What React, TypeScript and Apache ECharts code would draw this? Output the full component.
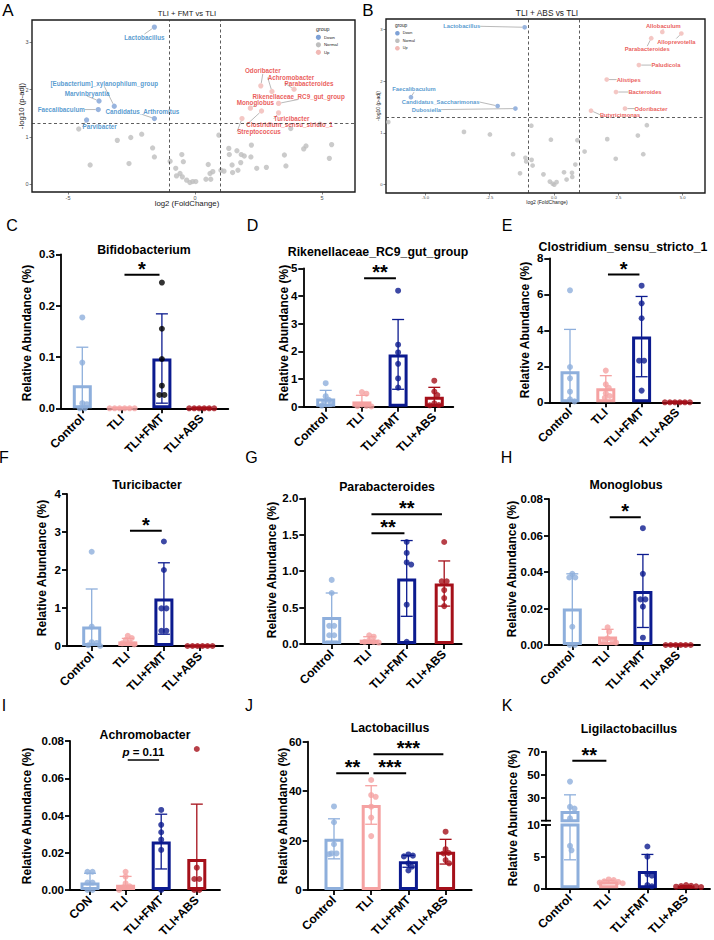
import { useEffect, useRef } from 'react';
import * as echarts from 'echarts';

const FONT = "'Liberation Sans', Arial, Helvetica, sans-serif";

/* ---------- volcano A: TLI + FMT vs TLI ---------- */
const fmtDownGenus = ['Lactobacillus', '[Eubacterium]_xylanophilum_group', 'Marvinbryantia', 'Faecalibaculum', 'Candidatus_Arthromitus', 'Parvibacter'];
const fmtDownLog2FC = [-1.6, -3.18, -3.78, -3.81, -1.6, -4.27];
const fmtDownLogP = [3.32, 1.65, 1.76, 1.58, 1.39, 1.36];
const fmtUpGenus = ['Odoribacter', 'Achromobacter', 'Parabacteroides', 'Rikenellaceae_RC9_gut_group', 'Monoglobus', 'Clostridium_sensu_stricto_1', 'Turicibacter', 'Streptococcus'];
const fmtUpLog2FC = [2.59, 3.03, 3.9, 3.29, 2.18, 2.62, 3.29, 1.85];
const fmtUpLogP = [2.08, 1.96, 2.01, 1.71, 1.61, 1.55, 1.51, 1.39];
const fmtNormalLog2FC = [-4.58, -4.13, -3.06, -2.6, -2.53, -2.1, -1.67, -1.6, -0.98, -0.76, -0.73, -0.59, -0.52, -0.46, -0.5, -0.33, -0.2, -0.09, 0.03, 0.43, 0.52, 0.59, 0.62, 0.7, 0.94, 1.02, 1.14, 1.33, 1.35, 1.46, 1.48, 1.65, 1.69, 1.8, 1.82, 1.94, 2.22, 2.2, 2.43, 2.81, 3.52, 3.58, 3.77, 4.92, 4.28, 4.37, 5.29, 5.38];
const fmtNormalLogP = [1.17, 0.41, 0.93, 0.44, 0.99, 1.06, 0.77, 0.58, 0.49, 0.34, 0.18, 0.23, 0.63, 0.48, 0.16, 0.09, 0.04, 0.06, 0.06, 0.11, 0.42, 0.23, 0.11, 0.27, 1.04, 0.3, 0.28, 0.76, 0.63, 0.41, 0.25, 0.71, 0.3, 0.46, 0.63, 0.6, 0.83, 0.58, 0.34, 0.36, 0.62, 0.39, 1.18, 1.27, 0.75, 0.81, 0.55, 0.84];

/* ---------- volcano B: TLI + ABS vs TLI ---------- */
const absDownGenus = ['Lactobacillus', 'Faecalibaculum', 'Candidatus_Saccharimonas', 'Dubosiella'];
const absDownLog2FC = [-1.14, -5.56, -2.19, -1.5];
const absDownLogP = [3.04, 1.69, 1.52, 1.47];
const absUpGenus = ['Allobaculum', 'Alloprevotella', 'Parabacteroides', 'Paludicola', 'Alistipes', 'Bacteroides', 'Odoribacter', 'Butyricimonas'];
const absUpLog2FC = [4.21, 4.95, 3.78, 3.3, 2.05, 2.41, 2.76, 1.44];
const absUpLogP = [2.95, 2.92, 2.83, 2.31, 2.03, 1.79, 1.47, 1.43];
const absNormalLog2FC = [-6.44, -3.5, -2.49, -1.59, -1.32, -1.11, -1.08, -0.87, -0.83, -0.88, -0.41, -0.16, -0.05, 0.01, 0.1, -0.12, 0.39, 0.49, 0.7, 0.71, 0.83, 0.91, 1.19, 2.07, 2.4, 3.26, 3.47, 3.61];
const absNormalLogP = [1.21, 1.02, 0.97, 0.59, 0.22, 0.52, 0.45, 0.48, 0.37, 1.14, 0.2, 0.06, 0.02, 0.0, 0.05, 0.87, 0.24, 0.1, 0.23, 0.15, 0.39, 0.86, 0.64, 0.88, 0.5, 0.95, 0.59, 1.15];

const FC_CUTOFF = 1;
const P_CUTOFF = -Math.log10(0.05);

/* ---------- relative abundance panels ---------- */
const GROUPS = ['Control', 'TLI', 'TLI+FMT', 'TLI+ABS'];
const GROUPS_CON = ['CON', 'TLI', 'TLI+FMT', 'TLI+ABS'];

const bifidoMean = [0.045, 0, 0.097, 0];
const bifidoSd = [0.074, 0, 0.087, 0];
const bifidoDots = [[0.177, 0.089, 0.01, 0.008, 0, 0], [0, 0, 0, 0, 0, 0], [0.245, 0.155, 0.096, 0.044, 0.026, 0.026], [0, 0, 0, 0, 0, 0]];
const bifidoSig: [number, number, number, string][] = [[1, 2, 0.26, '*']];

const rikenMean = [0.3, 0.19, 1.89, 0.36];
const rikenSd = [0.29, 0.22, 1.26, 0.34];
const rikenDots = [[0.85, 0.38, 0.25, 0.18, 0.1, 0.04], [0.53, 0.47, 0.08, 0.03, 0.02, 0.01], [4.19, 2.24, 1.96, 1.55, 1.02, 0.69], [0.94, 0.55, 0.42, 0.12, 0.06, 0.05]];
const rikenSig: [number, number, number, string][] = [[1, 2, 4.64, '**']];

const clostMean = [1.72, 0.78, 3.65, 0];
const clostSd = [2.33, 0.7, 2.23, 0];
const clostDots = [[6.22, 1.96, 1.33, 0.59, 0.17, 0.05], [1.76, 1.0, 0.8, 0.5, 0.35, 0.25], [6.48, 5.5, 4.67, 2.31, 2.31, 0.65], [0, 0, 0, 0, 0, 0]];
const clostSig: [number, number, number, string][] = [[1, 2, 7.1, '*']];

const turiMean = [0.51, 0.12, 1.25, 0];
const turiSd = [0.99, 0.08, 0.94, 0];
const turiDots = [[2.48, 0.51, 0.1, 0.08, 0.02, 0], [0.27, 0.21, 0.16, 0.09, 0.07, 0.04], [2.75, 2.0, 0.99, 0.99, 0.4, 0.4], [0, 0, 0, 0, 0, 0]];
const turiSig: [number, number, number, string][] = [[1, 2, 3.03, '*']];

const paraMean = [0.37, 0.06, 0.9, 0.83];
const paraSd = [0.33, 0.04, 0.52, 0.31];
const paraDots = [[0.88, 0.7, 0.25, 0.25, 0.12, 0.12], [0.12, 0.1, 0.05, 0.03, 0.03, 0.02], [1.4, 1.25, 1.12, 1.09, 0.54, 0.03], [1.4, 0.86, 0.86, 0.74, 0.63, 0.52]];
const paraSig: [number, number, number, string][] = [[1, 2, 1.52, '**'], [1, 3, 1.78, '**']];

const monoMean = [0.02, 0.0046, 0.0296, 0];
const monoSd = [0.019, 0.004, 0.02, 0];
const monoDots = [[0.039, 0.037, 0.037, 0.01, 0, 0], [0.0097, 0.0073, 0.0037, 0.0027, 0.0018, 0.0013], [0.064, 0.039, 0.025, 0.025, 0.021, 0.004], [0, 0, 0, 0, 0, 0]];
const monoSig: [number, number, number, string][] = [[1, 2, 0.07, '*']];

const achroMean = [0.004, 0.0028, 0.026, 0.0166];
const achroSd = [0.005, 0.0045, 0.0147, 0.0295];
const achroDots = [[0.0098, 0.0098, 0.004, 0.004, 0, 0], [0.0098, 0.0072, 0.0036, 0.002, 0.0014, 0], [0.043, 0.035, 0.031, 0.027, 0.0215, 0], [0.0757, 0.012, 0.0059, 0.0059, 0, 0]];
const achroSig: [number, number, number, string][] = [[1, 2, 0.0698, 'p = 0.11']];

const lactoMean = [20.7, 34.4, 11.6, 15.5];
const lactoSd = [8.1, 7.8, 2.4, 5.0];
const lactoDots = [[33.8, 27.4, 18.5, 14.8, 14.8, 14.5], [44.5, 38.4, 37.7, 33.7, 29.3, 21.8], [14.4, 13.9, 13.6, 10.8, 9.4, 7.9], [23.6, 16.5, 15.0, 14.8, 12.1, 10.8]];
const lactoSig: [number, number, number, string][] = [[0, 1, 47.2, '**'], [1, 2, 47.2, '***'], [1, 3, 54.9, '***']];

const ligiMean = [18.5, 1.07, 2.75, 0.33];
const ligiSd = [14.0, 0.2, 2.6, 0.1];
const ligiDots = [[44, 22, 20.5, 12, 6.7, 6.0], [1.4, 1.3, 1.1, 1.0, 0.9, 0.8], [6.6, 5.0, 2.2, 2.0, 0.5, 0.3], [0.5, 0.4, 0.35, 0.3, 0.25, 0.2]];
const ligiSig: [number, number, number, string][] = [[0, 1, 62.1, '**']];

const GROUP_COLORS = ['#8EAFDC', '#F5A2A2', '#0C1B8F', '#A5101A'];
const BLUE_LABEL = '#2C82C4';
const RED_LABEL = '#E5322F';
const DOWN_COL = '#7EA1D6';
const NORMAL_COL = '#BEBEBE';
const UP_COL = '#F1B9B5';
const DOT = 6;

type Seg = { min: number; max: number; top: number; bottom: number; interval?: number; labels?: number[]; dec: number };
type Panel = {
  letter: string; letterAt: [number, number];
  title: string; titleAt: [number, number];
  yTitleAt: [number, number];
  axisX: number; axisEnd: number; c0: number; step: number;
  cats: string[]; mean: number[]; sd: number[]; dots: number[][]; sig: [number, number, number, string][];
  dotColors?: string[]; segs: Seg[];
};

const PANELS: Panel[] = [
  { letter: 'C', letterAt: [12, 225], title: 'Bifidobacterium', titleAt: [144, 250], yTitleAt: [27, 333], axisX: 61, axisEnd: 228.3, c0: 82.3, step: 39.8, cats: GROUPS, mean: bifidoMean, sd: bifidoSd, dots: bifidoDots, sig: bifidoSig, dotColors: ['#8EAFDC', '#F5A2A2', '#000000', '#A5101A'], segs: [{ min: 0, max: 0.3, interval: 0.1, dec: 1, top: 254.3, bottom: 408.3 }] },
  { letter: 'D', letterAt: [252.5, 225], title: 'Rikenellaceae_RC9_gut_group', titleAt: [378, 252], yTitleAt: [284, 333], axisX: 303.3, axisEnd: 453.3, c0: 325.7, step: 36.2, cats: GROUPS, mean: rikenMean, sd: rikenSd, dots: rikenDots, sig: rikenSig, segs: [{ min: 0, max: 5, interval: 1, dec: 0, top: 268.3, bottom: 406.7 }] },
  { letter: 'E', letterAt: [507, 225], title: 'Clostridium_sensu_stricto_1', titleAt: [623, 247], yTitleAt: [525, 330], axisX: 549.3, axisEnd: 700, c0: 570, step: 35.8, cats: GROUPS, mean: clostMean, sd: clostSd, dots: clostDots, sig: clostSig, segs: [{ min: 0, max: 8, interval: 2, dec: 0, top: 258.3, bottom: 402.3 }] },
  { letter: 'F', letterAt: [4, 457], title: 'Turicibacter', titleAt: [147, 485], yTitleAt: [42, 568], axisX: 67, axisEnd: 223, c0: 91.7, step: 36.1, cats: GROUPS, mean: turiMean, sd: turiSd, dots: turiDots, sig: turiSig, segs: [{ min: 0, max: 4, interval: 1, dec: 0, top: 494, bottom: 646 }] },
  { letter: 'G', letterAt: [251.5, 457.5], title: 'Parabacteroides', titleAt: [387, 487], yTitleAt: [272, 570], axisX: 304.3, axisEnd: 461.7, c0: 331.7, step: 37.5, cats: GROUPS, mean: paraMean, sd: paraSd, dots: paraDots, sig: paraSig, segs: [{ min: 0, max: 2, interval: 0.5, dec: 1, top: 498.3, bottom: 644 }] },
  { letter: 'H', letterAt: [506.5, 457], title: 'Monoglobus', titleAt: [626, 485], yTitleAt: [512, 569], axisX: 549, axisEnd: 700, c0: 572.3, step: 35.3, cats: GROUPS, mean: monoMean, sd: monoSd, dots: monoDots, sig: monoSig, segs: [{ min: 0, max: 0.08, interval: 0.02, dec: 2, top: 499, bottom: 645 }] },
  { letter: 'I', letterAt: [4, 705], title: 'Achromobacter', titleAt: [145, 735], yTitleAt: [27, 816], axisX: 70, axisEnd: 220, c0: 90, step: 35.6, cats: GROUPS_CON, mean: achroMean, sd: achroSd, dots: achroDots, sig: achroSig, segs: [{ min: 0, max: 0.08, interval: 0.02, dec: 2, top: 741, bottom: 890 }] },
  { letter: 'J', letterAt: [249, 705], title: 'Lactobacillus', titleAt: [390, 728], yTitleAt: [283, 816], axisX: 307.7, axisEnd: 471.7, c0: 334, step: 37.2, cats: GROUPS, mean: lactoMean, sd: lactoSd, dots: lactoDots, sig: lactoSig, segs: [{ min: 0, max: 60, interval: 20, dec: 0, top: 741.7, bottom: 890 }] },
  { letter: 'K', letterAt: [507, 705], title: 'Ligilactobacillus', titleAt: [629, 729], yTitleAt: [513, 818], axisX: 546, axisEnd: 710, c0: 570, step: 38.7, cats: GROUPS, mean: ligiMean, sd: ligiSd, dots: ligiDots, sig: ligiSig, segs: [{ min: 0, max: 10, interval: 5, dec: 0, top: 825, bottom: 888.3 }, { min: 10, max: 70, labels: [30, 50, 70], dec: 0, top: 751.7, bottom: 820.7 }] },
];

type Volcano = {
  letter: string; letterAt: [number, number];
  title: string; titleAt: [number, number]; titleSize: number;
  rect: { left: number; top: number; width: number; height: number };
  xRange: [number, number]; yRange: [number, number]; xTicks: number[]; xDec: number;
  tickSize: number; labelSize: number; dot: number; axisTitleSize: number;
  xTitleAt: [number, number]; yTitleAt: [number, number];
  legendAt: [number, number]; legendGap: number; legendSize: number; legendR: number;
  down: { genus: string[]; fc: number[]; p: number[]; offsets: number[][] };
  up: { genus: string[]; fc: number[]; p: number[]; offsets: number[][] };
  normal: { fc: number[]; p: number[] };
};

const VOLCANOES: Volcano[] = [
  {
    letter: 'A', letterAt: [8, 10.5], title: 'TLI + FMT vs TLI', titleAt: [187, 13], titleSize: 7.7,
    rect: { left: 32, top: 20, width: 323, height: 172 },
    xRange: [-6.42, 6.3], yRange: [-0.16, 3.47], xTicks: [-5, 0, 5], xDec: 0,
    tickSize: 5.5, labelSize: 6.3, dot: 5.3, axisTitleSize: 7.8,
    xTitleAt: [187, 203.5], yTitleAt: [21, 106],
    legendAt: [316, 29], legendGap: 7.5, legendSize: 4.3, legendR: 2.6,
    down: { genus: fmtDownGenus, fc: fmtDownLog2FC, p: fmtDownLogP, offsets: [[-10, 10], [-10, -23], [-12, -8], [-37, 0], [-12, -7], [13, 7]] },
    up: { genus: fmtUpGenus, fc: fmtUpLog2FC, p: fmtUpLogP, offsets: [[2, -15], [19, -14], [15, -6], [20, -7], [5, -6], [28, 14], [13, 6], [17, 13]] },
    normal: { fc: fmtNormalLog2FC, p: fmtNormalLogP },
  },
  {
    letter: 'B', letterAt: [368, 10.5], title: 'TLI + ABS vs TLI', titleAt: [547, 13], titleSize: 8.3,
    rect: { left: 386, top: 19, width: 319, height: 174 },
    xRange: [-6.53, 5.87], yRange: [-0.16, 3.2], xTicks: [-5, -2.5, 0, 2.5, 5], xDec: 1,
    tickSize: 4.2, labelSize: 5.8, dot: 4.7, axisTitleSize: 5,
    xTitleAt: [547, 202], yTitleAt: [378.3, 106],
    legendAt: [395, 25], legendGap: 7.5, legendSize: 3.8, legendR: 2.3,
    down: { genus: absDownGenus, fc: absDownLog2FC, p: absDownLogP, offsets: [[-63, -1], [3, -8], [-57, -4], [-89, 1]] },
    up: { genus: absUpGenus, fc: absUpLog2FC, p: absUpLogP, offsets: [[1, -6], [-5, 8], [-4, 11], [27, 0], [22, 0], [29, 0], [26, 0], [29, 4]] },
    normal: { fc: absNormalLog2FC, p: absNormalLogP },
  },
];

// spreads equal / close values sideways so the dots of one group do not pile up
function swarmOffsets(vals: number[], toPx: (v: number) => number): number[] {
  const D = 4.6;
  const STEP = 0.5;
  const order = vals.map((_, i) => i).sort((a, b) => vals[b] - vals[a]);
  const placed: { x: number; y: number }[] = [];
  const out = new Array(vals.length).fill(0);
  for (const i of order) {
    const y = toPx(vals[i]);
    let k = 0;
    let x = 0;
    for (;;) {
      x = k === 0 ? 0 : (k % 2 === 1 ? 1 : -1) * Math.ceil(k / 2) * STEP;
      if (placed.every((q) => Math.hypot(q.x - x, q.y - y) >= D)) break;
      k++;
    }
    placed.push({ x, y });
    out[i] = x;
  }
  const rows = new Map<number, number[]>();
  order.forEach((i) => rows.set(vals[i], [...(rows.get(vals[i]) || []), i]));
  rows.forEach((members) => {
    if (members.length > 1) {
      const m = members.reduce((s, i) => s + out[i], 0) / members.length;
      members.forEach((i) => (out[i] -= m));
    }
  });
  return out;
}

function textEl(text: string, x: number, y: number, size: number, weight = 'normal', rotation = 0, color = '#000', align = 'center') {
  return {
    type: 'text', x, y, rotation, silent: true, z: 10,
    style: { text, fill: color, fontSize: size, fontWeight: weight, fontFamily: FONT, textAlign: align, textVerticalAlign: 'middle', align, verticalAlign: 'middle' },
  };
}

function buildOption() {
  const grid: any[] = [];
  const xAxis: any[] = [];
  const yAxis: any[] = [];
  const series: any[] = [];
  const graphic: any[] = [];

  const addGrid = (rect: any, xa: any, ya: any) => {
    const gi = grid.length;
    grid.push({ ...rect, containLabel: false, outerBoundsMode: 'none' });
    xAxis.push({ ...xa, gridIndex: gi });
    yAxis.push({ ...ya, gridIndex: gi });
    return gi;
  };

  /* volcano plots */
  VOLCANOES.forEach((v) => {
    const tick = { show: true, length: 2.5, lineStyle: { color: '#333', width: 0.6 } };
    const lab = { color: '#4D4D4D', fontSize: v.tickSize, fontFamily: FONT };
    const gi = addGrid(
      { ...v.rect, show: true, borderColor: '#1a1a1a', borderWidth: 1.4, backgroundColor: '#fff' },
      { type: 'value', min: v.xRange[0], max: v.xRange[1], axisLine: { show: false, onZero: false }, axisTick: { ...tick, customValues: v.xTicks }, axisLabel: { ...lab, margin: 2.5, customValues: v.xTicks, formatter: (x: number) => x.toFixed(v.xDec) }, splitLine: { show: false } },
      { type: 'value', min: v.yRange[0], max: v.yRange[1], axisLine: { show: false, onZero: false }, axisTick: { ...tick, customValues: [0, 1, 2, 3] }, axisLabel: { ...lab, margin: 3.5, customValues: [0, 1, 2, 3] }, splitLine: { show: false } },
    );
    series.push({
      type: 'scatter', xAxisIndex: gi, yAxisIndex: gi, symbolSize: v.dot, silent: true, z: 2,
      itemStyle: { color: NORMAL_COL },
      data: v.normal.fc.map((x, i) => [x, v.normal.p[i]]),
      markLine: {
        silent: true, symbol: ['none', 'none'], label: { show: false }, animation: false,
        lineStyle: { color: '#333', type: [3, 2.5], width: 0.8 },
        data: [{ xAxis: -FC_CUTOFF }, { xAxis: FC_CUTOFF }, { yAxis: P_CUTOFF }],
      },
    });
    const labelled = (grp: Volcano['down'], color: string, textColor: string) => ({
      type: 'scatter', xAxisIndex: gi, yAxisIndex: gi, symbolSize: v.dot, silent: true, z: 3,
      itemStyle: { color },
      data: grp.genus.map((n, i) => ({ name: n, value: [grp.fc[i], grp.p[i]] })),
      label: { show: true, position: 'inside', formatter: '{b}', color: textColor, fontSize: v.labelSize, fontWeight: 'bold', fontFamily: FONT },
      labelLine: { show: true, lineStyle: { color: '#8a8a8a', width: 0.6 } },
      labelLayout: (prm: any) => ({ dx: grp.offsets[prm.dataIndex][0], dy: grp.offsets[prm.dataIndex][1] }),
    });
    series.push(labelled(v.down, DOWN_COL, BLUE_LABEL));
    series.push(labelled(v.up, UP_COL, RED_LABEL));

    graphic.push(textEl(v.letter, v.letterAt[0], v.letterAt[1], 17));
    graphic.push(textEl(v.title, v.titleAt[0], v.titleAt[1], v.titleSize, 'normal', 0, '#1a1a1a'));
    graphic.push(textEl('log2 (FoldChange)', v.xTitleAt[0], v.xTitleAt[1], v.axisTitleSize, 'normal', 0, '#1a1a1a'));
    graphic.push(textEl('-log10 (p-adj)', v.yTitleAt[0], v.yTitleAt[1], v.axisTitleSize, 'normal', Math.PI / 2, '#1a1a1a'));
    const [lx, ly] = v.legendAt;
    graphic.push(textEl('group', lx, ly, v.legendSize + 1, 'normal', 0, '#1a1a1a', 'left'));
    [['Down', DOWN_COL], ['Normal', NORMAL_COL], ['Up', UP_COL]].forEach(([name, col], k) => {
      const cy = ly + v.legendGap * (k + 1) + 0.8;
      graphic.push({ type: 'circle', silent: true, z: 10, shape: { cx: lx + 2.4, cy, r: v.legendR }, style: { fill: col } });
      graphic.push(textEl(name, lx + 2.4 + v.legendR + 3, cy, v.legendSize, 'normal', 0, '#1a1a1a', 'left'));
    });
  });

  /* bar + dot panels */
  PANELS.forEach((p) => {
    const xMin = -(p.c0 - p.axisX) / p.step;
    const xMax = 3 + (p.axisEnd - p.c0 - 3 * p.step) / p.step;
    const width = p.axisEnd - p.axisX;
    const dotCols = p.dotColors ?? GROUP_COLORS;
    const segIndex = (v: number) => {
      for (let k = 0; k < p.segs.length; k++) if (v <= p.segs[k].max) return k;
      return p.segs.length - 1;
    };
    const toPx = (v: number) => {
      const s = p.segs[segIndex(v)];
      return s.bottom - ((v - s.min) / (s.max - s.min)) * (s.bottom - s.top);
    };
    const offsets = p.dots.map((vals) => swarmOffsets(vals, toPx));

    p.segs.forEach((s, k) => {
      const base = k === 0;
      const lineStyle = { color: '#000', width: 1.8 };
      const custom = s.labels ? { customValues: s.labels } : {};
      const gi = addGrid(
        { left: p.axisX, top: s.top, width, height: s.bottom - s.top },
        {
          type: 'value', min: xMin, max: xMax, show: base,
          axisLine: { show: true, onZero: false, lineStyle },
          axisTick: { show: true, customValues: [0, 1, 2, 3], length: 5, lineStyle },
          axisLabel: { customValues: [0, 1, 2, 3], formatter: (x: number) => p.cats[Math.round(x)], rotate: 45, margin: 8, color: '#000', fontSize: 12, fontWeight: 'bold', fontFamily: FONT },
          splitLine: { show: false },
        },
        {
          type: 'value', min: s.min, max: s.max, ...(s.interval ? { interval: s.interval } : {}),
          axisLine: { show: true, onZero: false, lineStyle },
          axisTick: { show: true, length: 5, lineStyle, ...custom },
          axisLabel: { ...custom, formatter: (y: number) => y.toFixed(s.dec), margin: 6, color: '#000', fontSize: 11.5, fontWeight: 'bold', fontFamily: FONT },
          splitLine: { show: false },
        },
      );
      const inSeg = (v: number) => (base ? v <= s.max : v > s.min && v <= s.max);

      series.push({
        type: 'bar', xAxisIndex: gi, yAxisIndex: gi, barWidth: 19, clip: true, silent: true, z: 2,
        data: p.mean
          .map((m, i) => ({ value: [i, m], itemStyle: { color: '#fff', borderColor: GROUP_COLORS[i], borderWidth: 3 } }))
          .filter((d) => base || d.value[1] > s.min),
      });

      series.push({
        type: 'custom', xAxisIndex: gi, yAxisIndex: gi, z: 3, silent: true, clip: false,
        data: p.mean.map((m, i) => [i, m, p.sd[i]]),
        renderItem: (params: any, api: any) => {
          const i = api.value(0);
          const m = api.value(1);
          const sd = api.value(2);
          if (!(sd > 0)) return null;
          const hiRaw = m + sd;
          const loRaw = m - sd;
          const hi = Math.min(hiRaw, s.max);
          const lo = Math.max(loRaw, s.min);
          if (hi <= lo) return null;
          const a = api.coord([i, hi]);
          const b = api.coord([i, lo]);
          const st = { stroke: GROUP_COLORS[params.dataIndex], lineWidth: 1.3 };
          const kids: any[] = [{ type: 'line', shape: { x1: a[0], y1: a[1], x2: b[0], y2: b[1] }, style: st }];
          if (hiRaw <= s.max) kids.push({ type: 'line', shape: { x1: a[0] - 6, y1: a[1], x2: a[0] + 6, y2: a[1] }, style: st });
          if (loRaw >= s.min) kids.push({ type: 'line', shape: { x1: b[0] - 6, y1: b[1], x2: b[0] + 6, y2: b[1] }, style: st });
          return { type: 'group', children: kids };
        },
      });

      const pts: any[] = [];
      p.dots.forEach((vals, g) =>
        vals.forEach((v, j) => {
          if (inSeg(v)) pts.push({ value: [g + offsets[g][j] / p.step, v], itemStyle: { color: dotCols[g] } });
        }),
      );
      series.push({ type: 'scatter', xAxisIndex: gi, yAxisIndex: gi, symbolSize: DOT, silent: true, z: 4, data: pts });

      const sigs = p.sig.filter((q) => inSeg(q[2]));
      if (sigs.length) {
        series.push({
          type: 'custom', xAxisIndex: gi, yAxisIndex: gi, z: 5, silent: true, clip: false,
          data: sigs.map((q) => [q[0], q[2], q[1]]),
          renderItem: (params: any, api: any) => {
            const q = sigs[params.dataIndex];
            const a = api.coord([q[0] + 0.06, q[2]]);
            const b = api.coord([q[1] - 0.06, q[2]]);
            const isP = q[3].startsWith('p');
            const textStyle = isP
              ? {
                  text: '{i|p} = ' + q[3].split('=')[1].trim(),
                  fill: '#000', fontSize: 11.5, fontWeight: 'bold', fontFamily: FONT,
                  rich: { i: { fontStyle: 'italic', fontWeight: 'bold', fontSize: 11.5, fontFamily: FONT, fill: '#000' } },
                  textAlign: 'center', textVerticalAlign: 'middle', align: 'center', verticalAlign: 'middle',
                }
              : { text: q[3], fill: '#000', fontSize: 20, fontWeight: 'bold', fontFamily: FONT, textAlign: 'center', textVerticalAlign: 'middle', align: 'center', verticalAlign: 'middle' };
            return {
              type: 'group',
              children: [
                { type: 'line', shape: { x1: a[0], y1: a[1], x2: b[0], y2: b[1] }, style: { stroke: '#000', lineWidth: isP ? 1.5 : 2 } },
                { type: 'text', x: (a[0] + b[0]) / 2, y: a[1] - (isP ? 8 : 6), style: textStyle },
              ],
            };
          },
        });
      }

      // break marks where two value ranges meet
      if (k > 0) {
        const yLow = p.segs[k - 1].top;
        const yHigh = s.bottom;
        [yLow, yHigh].forEach((yy) =>
          graphic.push({ type: 'line', silent: true, z: 10, shape: { x1: p.axisX - 5, y1: yy, x2: p.axisX + 5, y2: yy }, style: { stroke: '#000', lineWidth: 1.8 } }),
        );
      }
    });

    graphic.push(textEl(p.letter, p.letterAt[0], p.letterAt[1], 16));
    graphic.push(textEl(p.title, p.titleAt[0], p.titleAt[1], 12.3, 'bold'));
    graphic.push(textEl('Relative Abundance (%)', p.yTitleAt[0], p.yTitleAt[1], 12, 'bold', Math.PI / 2));
  });

  return {
    animation: false,
    backgroundColor: '#fff',
    textStyle: { fontFamily: FONT },
    grid, xAxis, yAxis, series, graphic,
  };
}

export default function App() {
  const ref = useRef<HTMLDivElement>(null);
  useEffect(() => {
    if (!ref.current) return;
    const chart = echarts.init(ref.current, null, { renderer: 'svg' });
    chart.setOption(buildOption() as any);
    return () => chart.dispose();
  }, []);
  return <div ref={ref} style={{ position: 'absolute', left: 0, top: 0, width: 714, height: 940, background: '#fff' }} />;
}
